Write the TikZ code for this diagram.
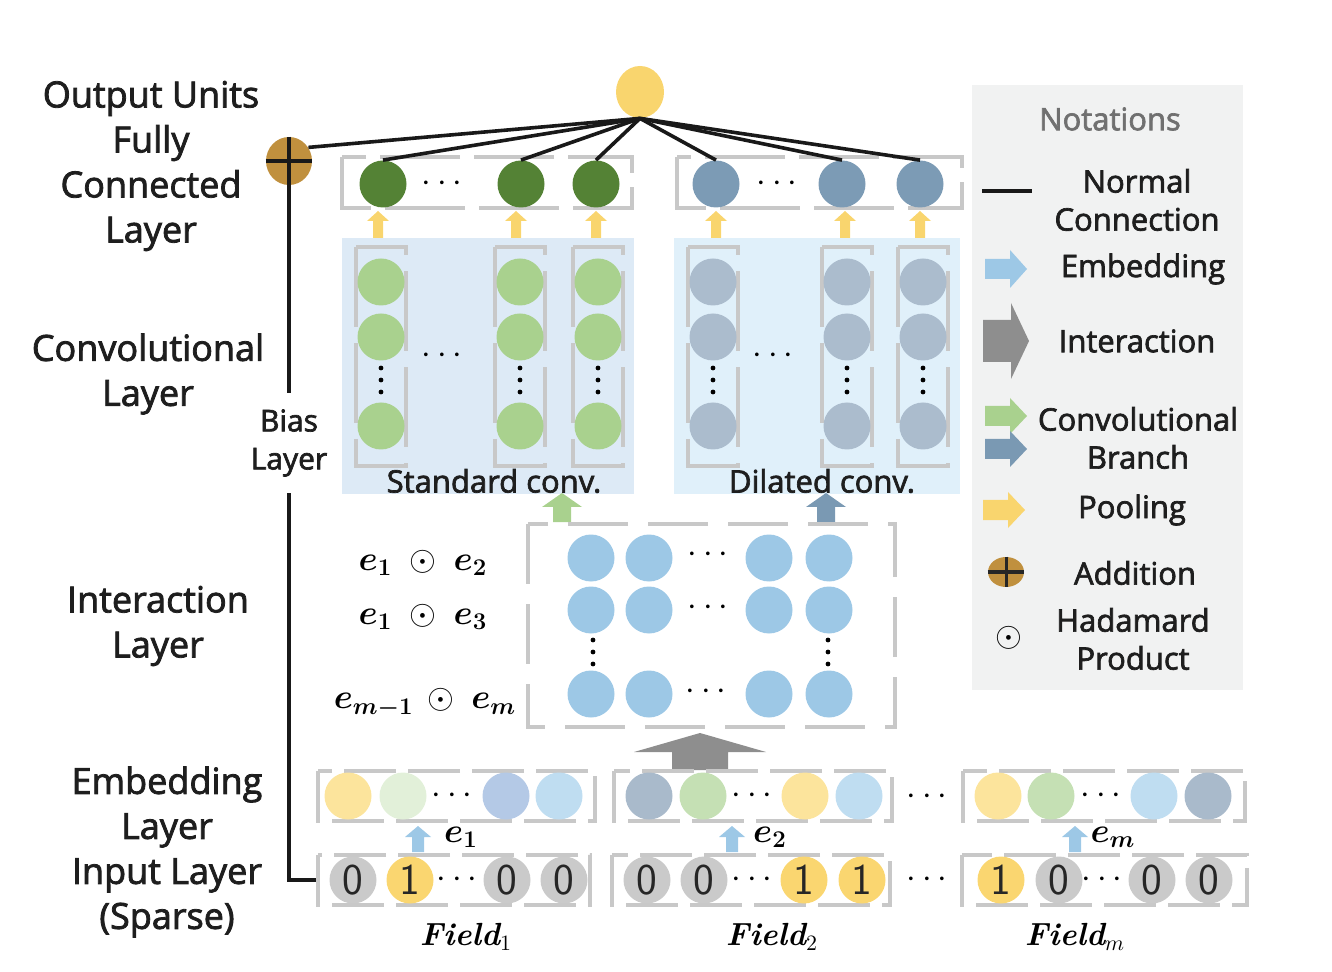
\documentclass[tikz,border=0pt]{standalone}
\usepackage{fontspec}
\usepackage{amsmath}
\usepackage{bm}
\newfontfamily\lab[FakeBold=2.2]{Open Sans}
\usetikzlibrary{shapes.geometric}
\definecolor{outyellow}{HTML}{F9D56E}
\definecolor{addbrown}{HTML}{C0903E}
\definecolor{fcgreen}{HTML}{548235}
\definecolor{fcblue}{HTML}{7C9BB5}
\definecolor{convgreen}{HTML}{A9D18E}
\definecolor{convgray}{HTML}{ABBCCD}
\definecolor{bgstd}{HTML}{DDEAF6}
\definecolor{bgdil}{HTML}{E0F0FA}
\definecolor{interblue}{HTML}{9DC8E6}
\definecolor{arrgray}{HTML}{8E8E8E}
\definecolor{arrblue}{HTML}{7A99B3}
\definecolor{brkgray}{HTML}{C8C8C8}
\definecolor{embyellow}{HTML}{FCE49C}
\definecolor{embpalegreen}{HTML}{E2F0D9}
\definecolor{embblue}{HTML}{B4C9E6}
\definecolor{emblightblue}{HTML}{BFDDF1}
\definecolor{embgrayblue}{HTML}{A9BACB}
\definecolor{embgreen}{HTML}{C5E0B4}
\definecolor{ingray}{HTML}{CACACA}
\definecolor{inyellow}{HTML}{FAD670}
\definecolor{legbg}{HTML}{F1F2F2}
\definecolor{notgray}{HTML}{707070}
\definecolor{txt}{HTML}{1E1E1E}
% colour, x, ybottom, ytop, shaft half width, head half width, head height
\newcommand{\blockup}[7]{\fill[#1] (#2-#5,#3) -- (#2-#5,#4+#7) -- (#2-#6,#4+#7) -- (#2,#4) -- (#2+#6,#4+#7) -- (#2+#5,#4+#7) -- (#2+#5,#3) -- cycle;}
% colour, xleft, xright, y, shaft half, head half, head length
\newcommand{\blockright}[7]{\fill[#1] (#2,#4-#5) -- (#3-#7,#4-#5) -- (#3-#7,#4-#6) -- (#3,#4) -- (#3-#7,#4+#6) -- (#3-#7,#4+#5) -- (#2,#4+#5) -- cycle;}
\newcommand{\vdotsat}[2]{\foreach \dy in {-12,0,12} {\fill[black] (#1,#2+\dy) circle (1.2pt);}}
\begin{document}
\begin{tikzpicture}[x=0.5pt,y=-0.5pt,
  lbl/.style={font=\lab\fontsize{18}{22.5}\selectfont, align=center, text=txt, inner sep=0pt},
  sml/.style={font=\lab\fontsize{15.5}{19}\selectfont, align=center, text=txt, inner sep=0pt},
  unit/.style={circle, minimum size=23.5pt, inner sep=0pt},
  brk/.style={draw=brkgray, line width=2pt, dash pattern=on 26pt off 6pt},
  conn/.style={line width=1.8pt, draw=black!90},
  digit/.style={font=\sffamily\fontsize{22}{22}\selectfont, text=black!85},
  mth/.style={font=\fontsize{17}{20}\selectfont, inner sep=0pt},
  dots/.style={font=\fontsize{16}{16}\selectfont, inner sep=0pt}]
\useasboundingbox (0,0) rectangle (1332,972);

% ---------- layer labels ----------
\node[lbl] (lout) at (151,166) {Output Units\\Fully\\Connected\\Layer};
\node[lbl] (lconv) at (148,374) {Convolutional\\Layer};
\node[lbl] (linter) at (158,626) {Interaction\\Layer};
\node[lbl] (lemb) at (167,852) {Embedding\\Layer\\Input Layer\\(Sparse)};

% ---------- notations panel ----------
\fill[legbg] (972,85) rectangle (1243,690);
\node[sml, text=notgray] (lnot) at (1110,119) {Notations};
\coordinate (ln1) at (982,191); \coordinate (ln2) at (1032,191);
\draw[line width=2.2pt, black!90] (ln1) -- (ln2);
\node[sml] (lnorm) at (1137,200) {Normal\\Connection};
\blockright{interblue}{985}{1027}{269}{10}{19}{17}
\node[sml] (lemba) at (1143,269) {Embedding};
\blockright{arrgray}{983}{1029}{341}{21}{38}{18}
\node[sml] (linta) at (1137,341) {Interaction};
\blockright{convgreen}{985}{1027}{416}{10}{18}{17}
\blockright{arrblue}{985}{1027}{449}{10}{18}{17}
\node[sml] (lbr) at (1138,438) {Convolutional\\Branch};
\blockright{outyellow}{983}{1025}{510}{10}{18}{17}
\node[sml] (lpool) at (1132,510) {Pooling};
\node[ellipse, fill=addbrown, minimum width=18pt, minimum height=15pt, inner sep=0pt] (ladd) at (1006,572) {};
\draw[line width=1.8pt, black!85] (ladd.west) -- (ladd.east);
\draw[line width=1.5pt, black!85] (ladd.north) -- (ladd.south);
\node[sml] (laddt) at (1135,573) {Addition};
\node[mth, font=\fontsize{19}{20}\selectfont] (lodot) at (1009,638) {$\odot$};
\node[sml] (lhad) at (1133,639) {Hadamard\\Product};

% ---------- conv boxes ----------
\fill[bgstd] (342,238) rectangle (634,494);
\fill[bgdil] (674,238) rectangle (960,494);

% ---------- FC brackets & nodes ----------
\draw[brk, dash pattern=on 40pt off 7pt] (342,157) rectangle (632,208);
\draw[brk, dash pattern=on 40pt off 7pt] (677,157) rectangle (962,208);
\node[unit, fill=fcgreen] (g1) at (383,184) {};
\node[unit, fill=fcgreen] (g2) at (521,184) {};
\node[unit, fill=fcgreen] (g3) at (596,184) {};
\node[unit, fill=fcblue] (b1) at (716,184) {};
\node[unit, fill=fcblue] (b2) at (842,184) {};
\node[unit, fill=fcblue] (b3) at (920,184) {};
\node[dots] (gd) at (445,184) {$\cdots$};
\node[dots] (bd) at (780,184) {$\cdots$};

% output & addition
\node[ellipse, fill=outyellow, minimum width=24pt, minimum height=26pt, inner sep=0pt] (out) at (640,92) {};
\node[ellipse, fill=addbrown, minimum width=23pt, minimum height=24pt, inner sep=0pt] (add) at (289,161) {};
\foreach \n in {g1,g2,g3,b1,b2,b3} {\draw[conn] (out.south) -- (\n.north);}
\draw[conn] (out.south) -- (add.35);
\draw[line width=2.2pt, black!90] (add.west) -- (add.east);
\draw[conn] (add.north) -- (add.south);

% bias layer
\node[sml, font=\lab\fontsize{15}{19}\selectfont, inner sep=8pt] (bias) at (289,443) {Bias\\Layer};
\draw[conn] (add.south) -- (bias.north);
\coordinate (inend) at (318,880);
\draw[conn] (bias.south) |- (inend);

% pooling arrows
\foreach \x in {378,516,596,716,845,920} {\blockup{outyellow}{\x}{238}{211}{5}{11}{10}}

% ---------- conv columns ----------
\foreach \x [count=\i] in {381,520,598} {
  \draw[brk, dash pattern=on 40pt off 8pt] (\x-25,247) rectangle (\x+25,466);
  \foreach \y [count=\j] in {282,337,426} {\node[unit, fill=convgreen] (s\i\j) at (\x,\y) {};}
  \vdotsat{\x}{380}
}
\foreach \x [count=\i] in {713,847,923} {
  \draw[brk, dash pattern=on 40pt off 8pt] (\x-25,247) rectangle (\x+25,466);
  \foreach \y [count=\j] in {282,337,426} {\node[unit, fill=convgray] (d\i\j) at (\x,\y) {};}
  \vdotsat{\x}{380}
}
\node[dots] (sd) at (445,356) {$\cdots$};
\node[dots] (dd) at (776,356) {$\cdots$};
\node[sml] (lstd) at (494,481) {Standard conv.};
\node[sml] (ldil) at (822,481) {Dilated conv.};

% branch arrows
\blockup{convgreen}{562}{522}{493}{9}{20}{14}
\blockup{arrblue}{826}{522}{493}{9}{20}{14}

% ---------- interaction layer ----------
\draw[brk, dash pattern=on 30pt off 10pt] (528,524) rectangle (895,727);
\foreach \x [count=\i] in {591,649,769,829} {
  \foreach \y [count=\j] in {558,610,694} {\node[unit, fill=interblue] (h\i\j) at (\x,\y) {};}
}
\node[dots] at (711,555) {$\cdots$};
\node[dots] at (711,608) {$\cdots$};
\node[dots] at (709,692) {$\cdots$};
\vdotsat{593}{652}
\vdotsat{828}{652}
\node[mth] (m1) at (423,563) {$\bm{e_1}\;\odot\;\bm{e_2}$};
\node[mth] (m2) at (423,617) {$\bm{e_1}\;\odot\;\bm{e_3}$};
\node[mth] (m3) at (425,703) {$\bm{e_{m-1}}\,\odot\;\bm{e_m}$};

\blockup{arrgray}{700}{770}{733}{28}{66}{19}

% ---------- embedding layer ----------
\draw[brk] (318,771) rectangle (595,821);
\draw[brk] (614,771) rectangle (892,821);
\draw[brk] (963,771) rectangle (1245,821);
\node[unit, fill=embyellow] (e11) at (348,796) {};
\node[unit, fill=embpalegreen] (e12) at (403,796) {};
\node[unit, fill=embblue] (e13) at (506,796) {};
\node[unit, fill=emblightblue] (e14) at (559,796) {};
\node[unit, fill=embgrayblue] (e21) at (649,796) {};
\node[unit, fill=embgreen] (e22) at (703,796) {};
\node[unit, fill=embyellow] (e23) at (805,796) {};
\node[unit, fill=emblightblue] (e24) at (859,796) {};
\node[unit, fill=embyellow] (e31) at (998,796) {};
\node[unit, fill=embgreen] (e32) at (1051,796) {};
\node[unit, fill=emblightblue] (e33) at (1154,796) {};
\node[unit, fill=embgrayblue] (e34) at (1208,796) {};
\node[dots] at (455,796) {$\cdots$};
\node[dots] at (755,796) {$\cdots$};
\node[dots] at (930,797) {$\cdots$};
\node[dots] at (1104,796) {$\cdots$};

% embedding arrows
\blockup{interblue}{418}{852}{826}{6}{13}{11}
\blockup{interblue}{732}{852}{826}{6}{13}{11}
\blockup{interblue}{1075}{852}{826}{6}{13}{11}
\node[mth] at (461,837) {$\bm{e_1}$};
\node[mth] at (770,837) {$\bm{e_2}$};
\node[mth] at (1113,837) {$\bm{e_m}$};

% ---------- input layer ----------
\draw[brk] (318,855) rectangle (590,905);
\draw[brk] (612,855) rectangle (890,905);
\draw[brk] (962,855) rectangle (1247,905);
\node[unit, fill=ingray, digit] (i11) at (353,880) {0};
\node[unit, fill=inyellow, digit] (i12) at (410,880) {1};
\node[unit, fill=ingray, digit] (i13) at (507,880) {0};
\node[unit, fill=ingray, digit] (i14) at (564,880) {0};
\node[unit, fill=ingray, digit] (i21) at (647,880) {0};
\node[unit, fill=ingray, digit] (i22) at (704,880) {0};
\node[unit, fill=inyellow, digit] (i23) at (804,880) {1};
\node[unit, fill=inyellow, digit] (i24) at (862,880) {1};
\node[unit, fill=inyellow, digit] (i31) at (1001,880) {1};
\node[unit, fill=ingray, digit] (i32) at (1059,880) {0};
\node[unit, fill=ingray, digit] (i33) at (1152,880) {0};
\node[unit, fill=ingray, digit] (i34) at (1209,880) {0};
\node[dots] at (460,880) {$\cdots$};
\node[dots] at (755,880) {$\cdots$};
\node[dots] at (930,880) {$\cdots$};
\node[dots] at (1105,880) {$\cdots$};

% field labels
\node[font=\fontsize{16}{18}\selectfont] (f1) at (466,937) {\bfseries\itshape Field$_1$};
\node[font=\fontsize{16}{18}\selectfont] (f2) at (772,937) {\bfseries\itshape Field$_2$};
\node[font=\fontsize{16}{18}\selectfont] (f3) at (1075,937) {\bfseries\itshape Field$_m$};
\end{tikzpicture}
\end{document}
